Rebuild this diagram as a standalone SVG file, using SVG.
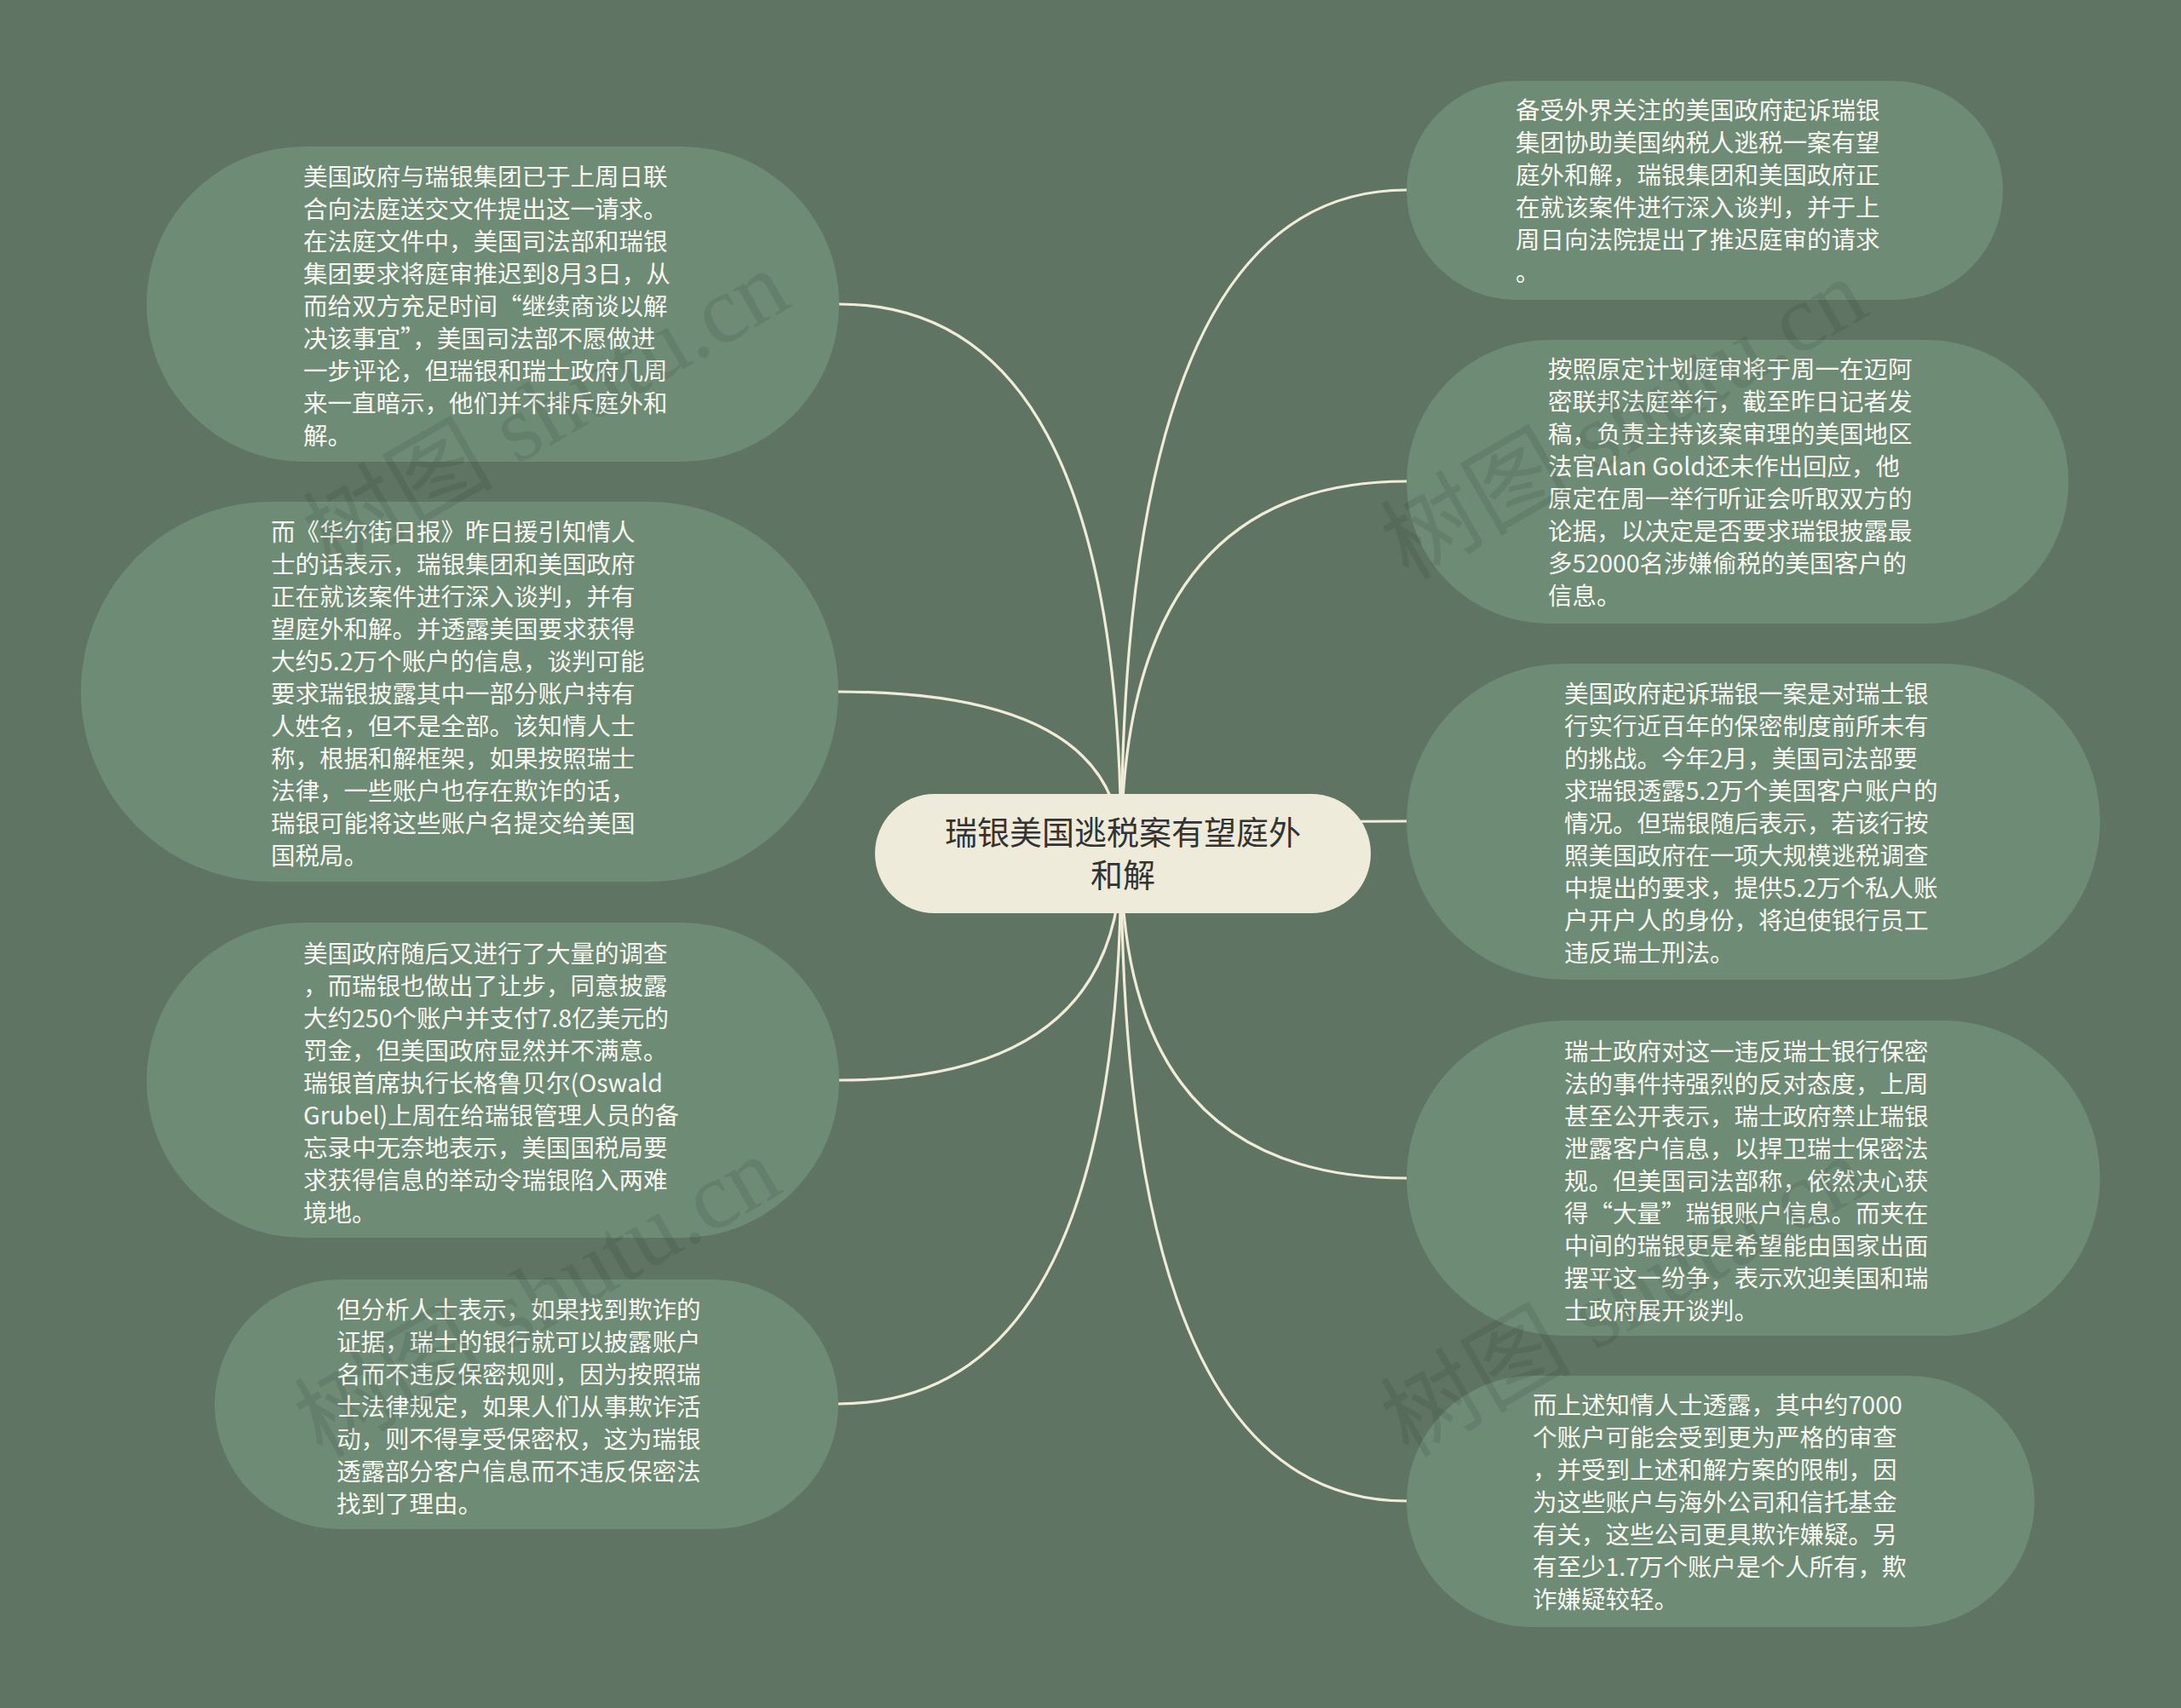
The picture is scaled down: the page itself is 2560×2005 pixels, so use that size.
<svg xmlns="http://www.w3.org/2000/svg" width="2560" height="2005" viewBox="0 0 2560 2005">
<style>
.bg{fill:#5F7462}
.node{fill:#6E8B75}
.root{fill:#EFEBDA}
.link{fill:none;stroke:#F0ECD8;stroke-width:3.2;stroke-linecap:round}
.t{font-family:"Noto Sans CJK SC","Noto Sans",sans-serif;font-size:28.5px;fill:#F8F8F2}
.rt{font-family:"Noto Sans CJK SC","Noto Sans",sans-serif;font-size:38px;fill:#333333;text-anchor:middle}
.wm{font-family:"Liberation Serif","Noto Sans CJK SC",serif;font-size:112px;fill:#2E3A30;fill-opacity:0.14;text-anchor:middle}
</style>
<rect class="bg" x="0" y="0" width="2560" height="2005"/>
<g id="connectors">
<path class="link" d="M1316 1002 Q1316 357 985 357"/>
<path class="link" d="M1316 1002 Q1316 812 984 812"/>
<path class="link" d="M1316 1002 Q1316 1268 985 1268"/>
<path class="link" d="M1316 1002 Q1316 1648 984 1648"/>
<path class="link" d="M1316 1002 Q1316 223 1651 223"/>
<path class="link" d="M1316 1002 Q1316 565 1651 565"/>
<path class="link" d="M1316 1002 Q1316 964 1651 964"/>
<path class="link" d="M1316 1002 Q1316 1383 1651 1383"/>
<path class="link" d="M1316 1002 Q1316 1762 1651 1762"/>
</g>
<g id="node-l1">
<rect class="node" x="172" y="172" width="813" height="370" rx="185"/>
<text class="t"><tspan x="356" y="218">美国政府与瑞银集团已于上周日联</tspan><tspan x="356" y="256">合向法庭送交文件提出这一请求。</tspan><tspan x="356" y="294">在法庭文件中，美国司法部和瑞银</tspan><tspan x="356" y="332">集团要求将庭审推迟到8月3日，从</tspan><tspan x="356" y="370">而给双方充足时间“继续商谈以解</tspan><tspan x="356" y="408">决该事宜”，美国司法部不愿做进</tspan><tspan x="356" y="446">一步评论，但瑞银和瑞士政府几周</tspan><tspan x="356" y="484">来一直暗示，他们并不排斥庭外和</tspan><tspan x="356" y="522">解。</tspan></text>
</g>
<g id="node-l2">
<rect class="node" x="95" y="589" width="889" height="446" rx="223"/>
<text class="t"><tspan x="318" y="635">而《华尔街日报》昨日援引知情人</tspan><tspan x="318" y="673">士的话表示，瑞银集团和美国政府</tspan><tspan x="318" y="711">正在就该案件进行深入谈判，并有</tspan><tspan x="318" y="749">望庭外和解。并透露美国要求获得</tspan><tspan x="318" y="787">大约5.2万个账户的信息，谈判可能</tspan><tspan x="318" y="825">要求瑞银披露其中一部分账户持有</tspan><tspan x="318" y="863">人姓名，但不是全部。该知情人士</tspan><tspan x="318" y="901">称，根据和解框架，如果按照瑞士</tspan><tspan x="318" y="939">法律，一些账户也存在欺诈的话，</tspan><tspan x="318" y="977">瑞银可能将这些账户名提交给美国</tspan><tspan x="318" y="1015">国税局。</tspan></text>
</g>
<g id="node-l3">
<rect class="node" x="172" y="1083" width="813" height="370" rx="185"/>
<text class="t"><tspan x="356" y="1130">美国政府随后又进行了大量的调查</tspan><tspan x="356" y="1168">，而瑞银也做出了让步，同意披露</tspan><tspan x="356" y="1206">大约250个账户并支付7.8亿美元的</tspan><tspan x="356" y="1244">罚金，但美国政府显然并不满意。</tspan><tspan x="356" y="1282">瑞银首席执行长格鲁贝尔(Oswald</tspan><tspan x="356" y="1320">Grubel)上周在给瑞银管理人员的备</tspan><tspan x="356" y="1358">忘录中无奈地表示，美国国税局要</tspan><tspan x="356" y="1396">求获得信息的举动令瑞银陷入两难</tspan><tspan x="356" y="1434">境地。</tspan></text>
</g>
<g id="node-l4">
<rect class="node" x="252" y="1502" width="732" height="293" rx="146.5"/>
<text class="t"><tspan x="395" y="1548">但分析人士表示，如果找到欺诈的</tspan><tspan x="395" y="1586">证据，瑞士的银行就可以披露账户</tspan><tspan x="395" y="1624">名而不违反保密规则，因为按照瑞</tspan><tspan x="395" y="1662">士法律规定，如果人们从事欺诈活</tspan><tspan x="395" y="1700">动，则不得享受保密权，这为瑞银</tspan><tspan x="395" y="1738">透露部分客户信息而不违反保密法</tspan><tspan x="395" y="1776">找到了理由。</tspan></text>
</g>
<g id="node-r1">
<rect class="node" x="1651" y="95" width="700" height="257" rx="128.5"/>
<text class="t"><tspan x="1779" y="140">备受外界关注的美国政府起诉瑞银</tspan><tspan x="1779" y="178">集团协助美国纳税人逃税一案有望</tspan><tspan x="1779" y="216">庭外和解，瑞银集团和美国政府正</tspan><tspan x="1779" y="254">在就该案件进行深入谈判，并于上</tspan><tspan x="1779" y="292">周日向法院提出了推迟庭审的请求</tspan><tspan x="1779" y="330">。</tspan></text>
</g>
<g id="node-r2">
<rect class="node" x="1651" y="399" width="777" height="333" rx="166.5"/>
<text class="t"><tspan x="1817" y="444">按照原定计划庭审将于周一在迈阿</tspan><tspan x="1817" y="482">密联邦法庭举行，截至昨日记者发</tspan><tspan x="1817" y="520">稿，负责主持该案审理的美国地区</tspan><tspan x="1817" y="558">法官Alan Gold还未作出回应，他</tspan><tspan x="1817" y="596">原定在周一举行听证会听取双方的</tspan><tspan x="1817" y="634">论据，以决定是否要求瑞银披露最</tspan><tspan x="1817" y="672">多52000名涉嫌偷税的美国客户的</tspan><tspan x="1817" y="710">信息。</tspan></text>
</g>
<g id="node-r3">
<rect class="node" x="1651" y="779" width="814" height="371" rx="185.5"/>
<text class="t"><tspan x="1836" y="825">美国政府起诉瑞银一案是对瑞士银</tspan><tspan x="1836" y="863">行实行近百年的保密制度前所未有</tspan><tspan x="1836" y="901">的挑战。今年2月，美国司法部要</tspan><tspan x="1836" y="939">求瑞银透露5.2万个美国客户账户的</tspan><tspan x="1836" y="977">情况。但瑞银随后表示，若该行按</tspan><tspan x="1836" y="1015">照美国政府在一项大规模逃税调查</tspan><tspan x="1836" y="1053">中提出的要求，提供5.2万个私人账</tspan><tspan x="1836" y="1091">户开户人的身份，将迫使银行员工</tspan><tspan x="1836" y="1129">违反瑞士刑法。</tspan></text>
</g>
<g id="node-r4">
<rect class="node" x="1651" y="1198" width="814" height="370" rx="185"/>
<text class="t"><tspan x="1836" y="1245">瑞士政府对这一违反瑞士银行保密</tspan><tspan x="1836" y="1283">法的事件持强烈的反对态度，上周</tspan><tspan x="1836" y="1321">甚至公开表示，瑞士政府禁止瑞银</tspan><tspan x="1836" y="1359">泄露客户信息，以捍卫瑞士保密法</tspan><tspan x="1836" y="1397">规。但美国司法部称，依然决心获</tspan><tspan x="1836" y="1435">得“大量”瑞银账户信息。而夹在</tspan><tspan x="1836" y="1473">中间的瑞银更是希望能由国家出面</tspan><tspan x="1836" y="1511">摆平这一纷争，表示欢迎美国和瑞</tspan><tspan x="1836" y="1549">士政府展开谈判。</tspan></text>
</g>
<g id="node-r5">
<rect class="node" x="1651" y="1615" width="737" height="295" rx="147.5"/>
<text class="t"><tspan x="1799" y="1660">而上述知情人士透露，其中约7000</tspan><tspan x="1799" y="1698">个账户可能会受到更为严格的审查</tspan><tspan x="1799" y="1736">，并受到上述和解方案的限制，因</tspan><tspan x="1799" y="1774">为这些账户与海外公司和信托基金</tspan><tspan x="1799" y="1812">有关，这些公司更具欺诈嫌疑。另</tspan><tspan x="1799" y="1850">有至少1.7万个账户是个人所有，欺</tspan><tspan x="1799" y="1888">诈嫌疑较轻。</tspan></text>
</g>
<g id="node-root">
<rect class="root" x="1027" y="932" width="582" height="140" rx="70"/>
<text class="rt"><tspan x="1318" y="991">瑞银美国逃税案有望庭外</tspan><tspan x="1318" y="1041">和解</tspan></text>
</g>
<g id="watermarks">
<text class="wm" transform="translate(660 515) rotate(-30)">树图 shutu.cn</text>
<text class="wm" transform="translate(1925 525) rotate(-30)">树图 shutu.cn</text>
<text class="wm" transform="translate(650 1555) rotate(-30)">树图 shutu.cn</text>
<text class="wm" transform="translate(1925 1555) rotate(-30)">树图 shutu.cn</text>
</g>
</svg>
